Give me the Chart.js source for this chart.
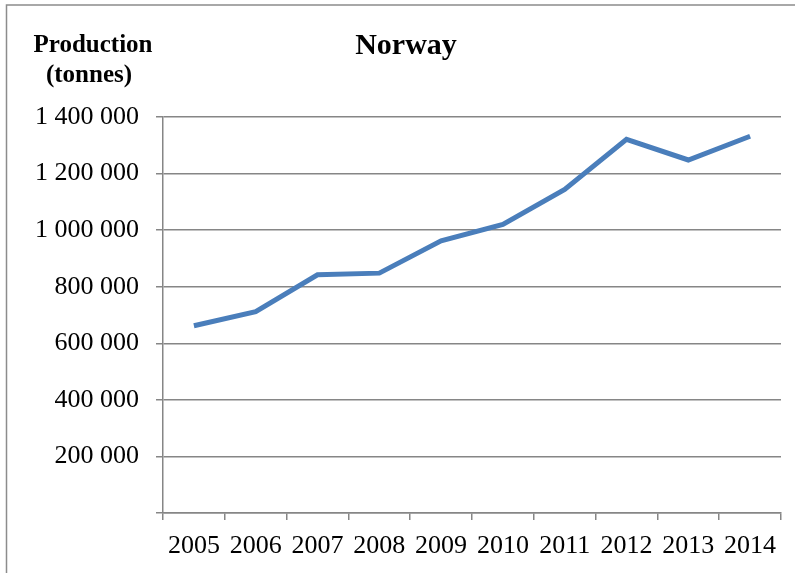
<!DOCTYPE html>
<html>
<head>
<meta charset="utf-8">
<script src="https://cdn.jsdelivr.net/npm/chart.js@4/dist/chart.umd.min.js"></script>
<style>
  html, body { margin: 0; padding: 0; background: #fff; }
  #wrap { width: 795px; height: 573px; }
</style>
</head>
<body>
<div id="wrap"><canvas id="chartCanvas" width="795" height="573"></canvas></div>
<script>
"use strict";

const years = ["2005", "2006", "2007", "2008", "2009", "2010", "2011", "2012", "2013", "2014"];
const production = [662000, 712000, 842000, 848000, 962000, 1020000, 1144000, 1321000, 1248000, 1332000];
const yTicks = [0, 200000, 400000, 600000, 800000, 1000000, 1200000, 1400000];
const chartTitle = "Norway";
const axisTitle = ["Production", "(tonnes)"];

const gridGray = "#868686";
const serif = "'Liberation Serif', 'Times New Roman', serif";

function spaced(v) {
  return String(v).replace(/\B(?=(\d{3})+(?!\d))/g, " ");
}

const framePlugin = {
  id: "frame",
  beforeDraw(chart) {
    const c = chart.ctx;
    c.save();
    c.fillStyle = "#fff";
    c.fillRect(0, 0, chart.width, chart.height);
    c.strokeStyle = "#8c8c8c";
    c.lineWidth = 1.5;
    c.beginPath();
    c.moveTo(6.5, chart.height + 2);
    c.lineTo(6.5, 5);
    c.lineTo(chart.width + 2, 5);
    c.stroke();
    c.restore();
  },
  afterDraw(chart) {
    const c = chart.ctx;
    c.save();
    c.fillStyle = "#000";
    c.textAlign = "center";
    c.textBaseline = "middle";
    c.font = "bold 30px " + serif;
    c.fillText(chartTitle, 406, 46);
    c.font = "bold 25px " + serif;
    c.fillText(axisTitle[0], 93, 46);
    c.fillText(axisTitle[1], 89, 76);
    c.restore();
  }
};

const ctx = document.getElementById("chartCanvas").getContext("2d");
new Chart(ctx, {
  type: "line",
  data: {
    labels: years,
    datasets: [{
      label: chartTitle,
      data: production,
      borderColor: "#4a7ebb",
      borderWidth: 5,
      pointRadius: 0,
      tension: 0,
      fill: false
    }]
  },
  options: {
    responsive: false,
    animation: false,
    layout: { padding: { top: 117, right: 14, left: 0, bottom: 0 } },
    plugins: {
      legend: { display: false },
      tooltip: { enabled: false }
    },
    scales: {
      x: {
        offset: true,
        afterFit(scale) { scale.height = 60; },
        grid: {
          offset: true,
          drawOnChartArea: false,
          tickLength: 7,
          color: gridGray,
          lineWidth: 1.5
        },
        border: { color: gridGray, width: 1.5 },
        ticks: {
          color: "#000",
          font: { family: serif, size: 26 },
          padding: 11,
          maxRotation: 0,
          autoSkip: false
        }
      },
      y: {
        min: 0,
        max: 1400000,
        afterFit(scale) { scale.width = 163; },
        afterBuildTicks(scale) {
          scale.ticks = yTicks.map(v => ({ value: v }));
        },
        grid: {
          tickLength: 7,
          color: gridGray,
          lineWidth: 1.5
        },
        border: { color: gridGray, width: 1.5 },
        ticks: {
          color: "#000",
          font: { family: serif, size: 26 },
          padding: 17,
          callback: (v) => v === 0 ? "" : spaced(v)
        }
      }
    }
  },
  plugins: [framePlugin]
});
</script>
</body>
</html>
